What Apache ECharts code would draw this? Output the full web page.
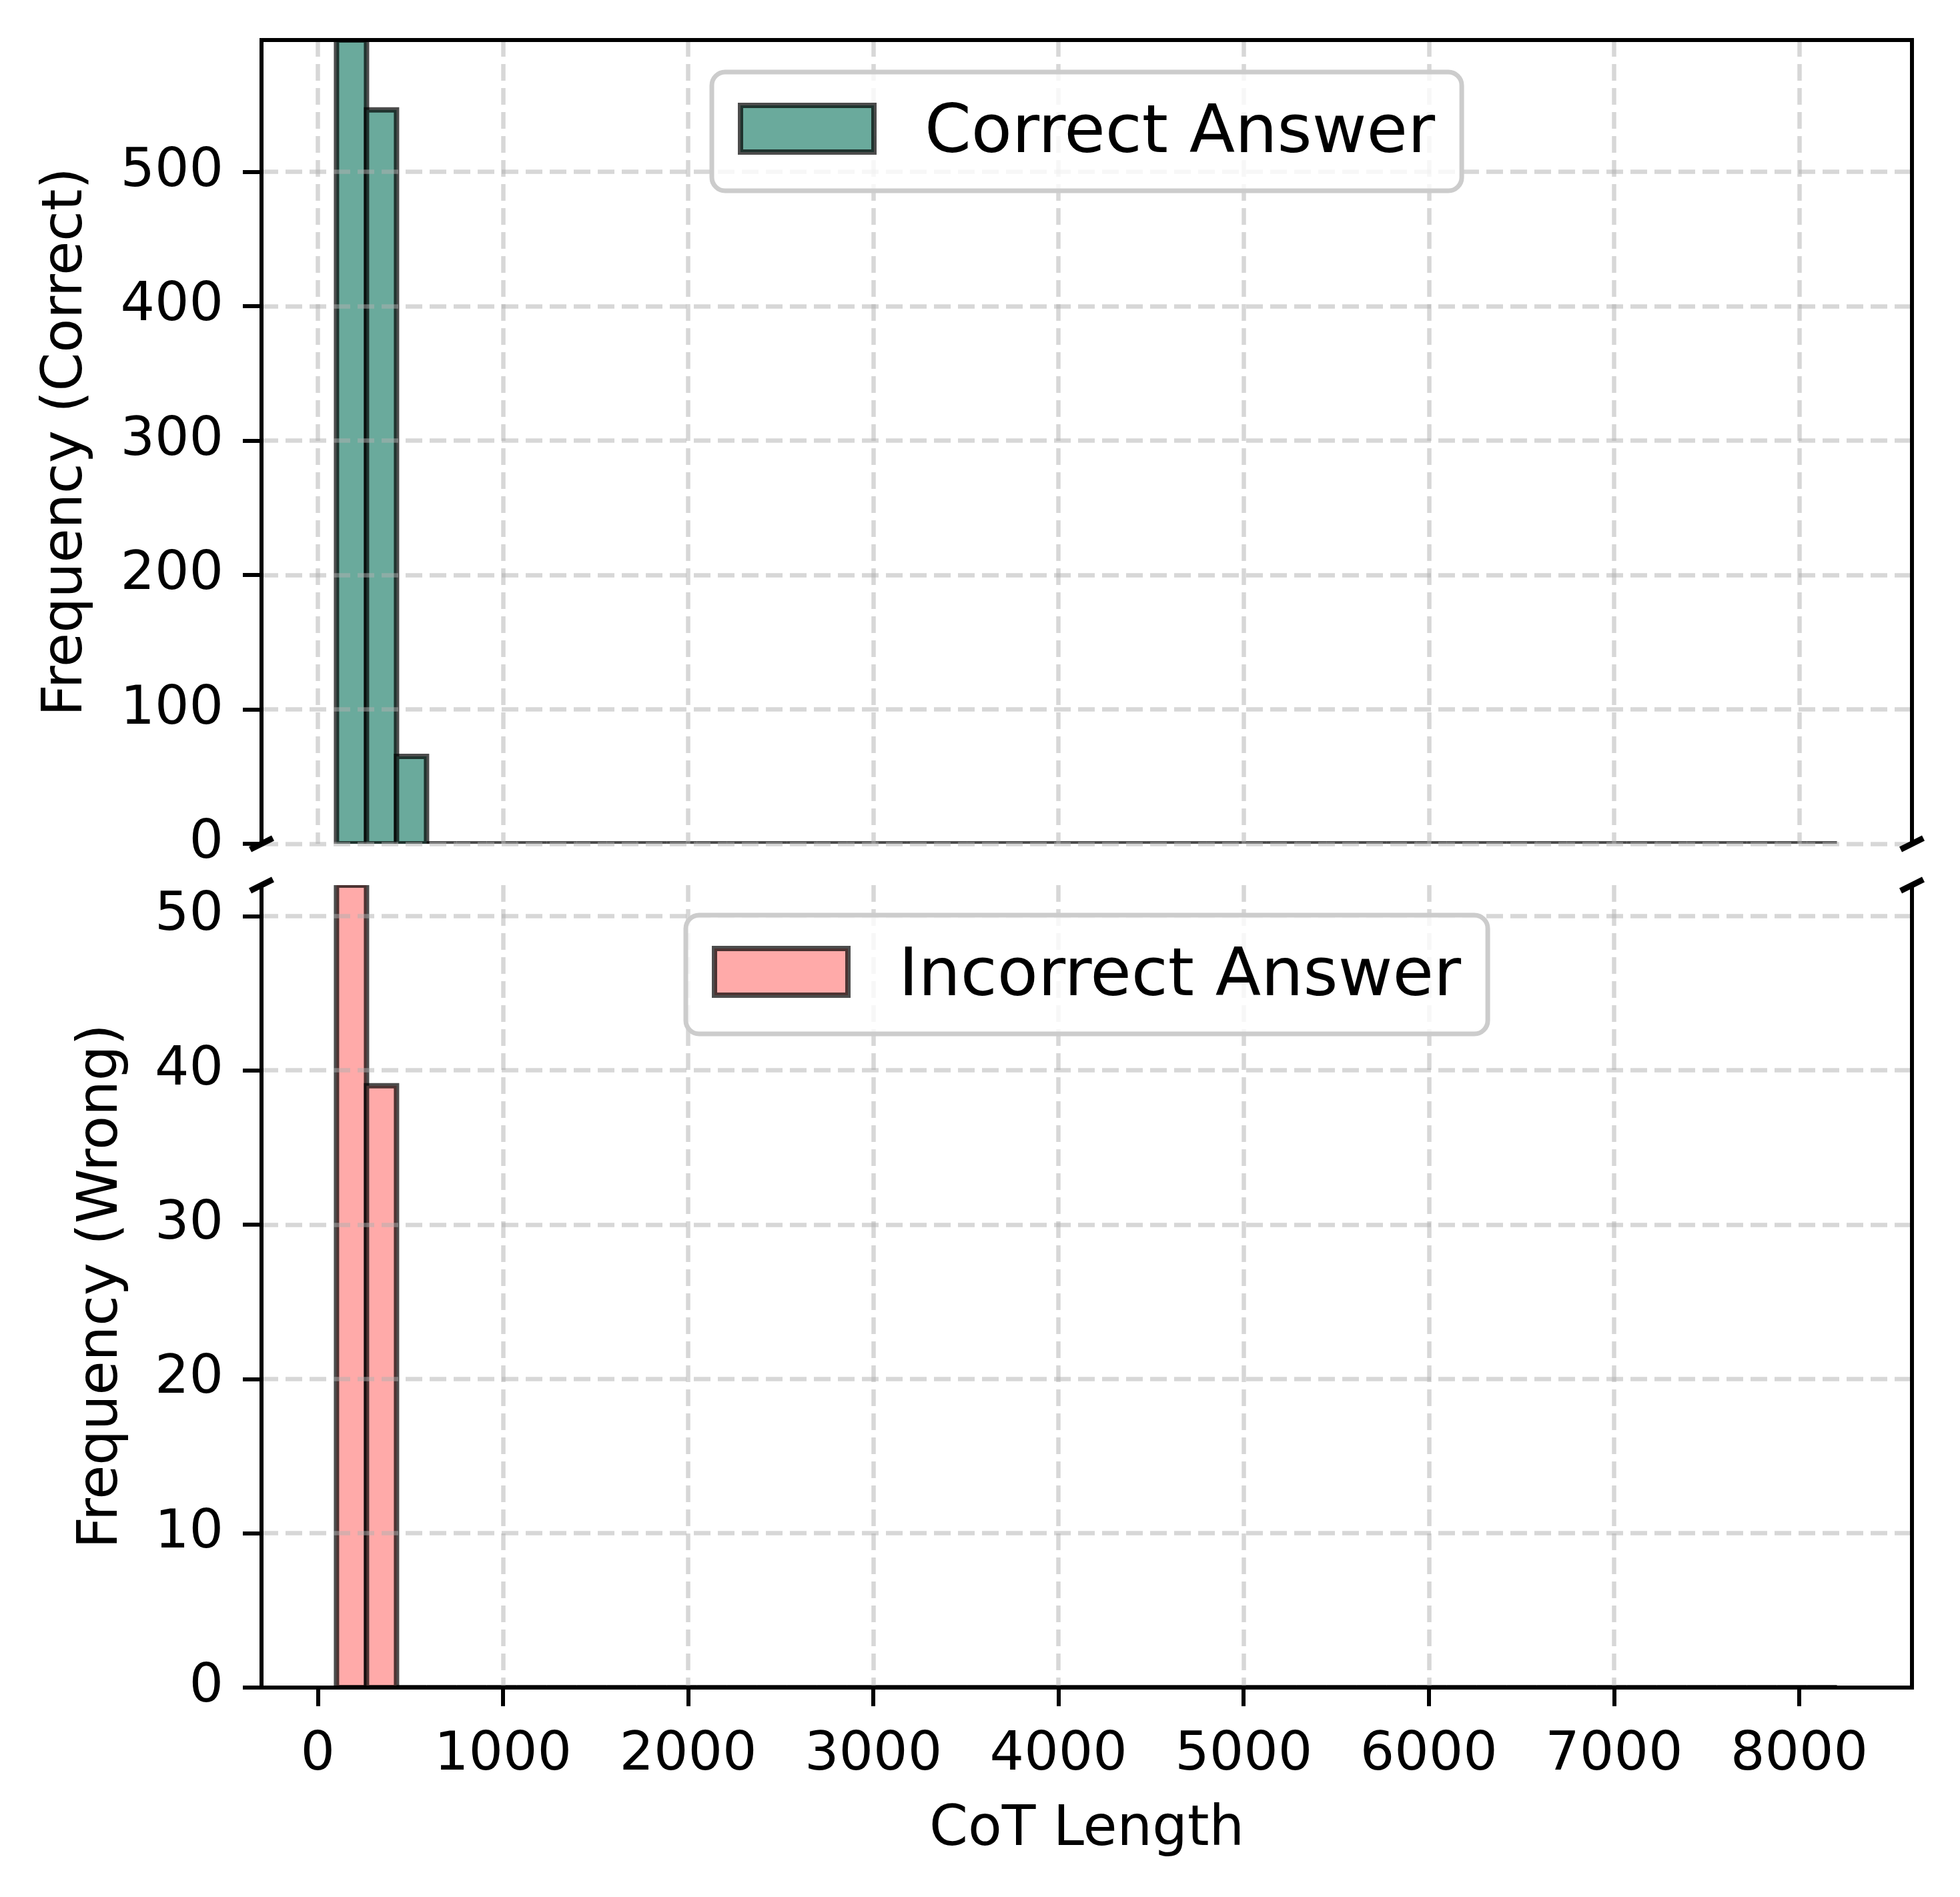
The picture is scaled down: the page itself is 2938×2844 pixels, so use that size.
<!DOCTYPE html>
<html>
<head>
<meta charset="utf-8">
<script src="https://cdn.jsdelivr.net/npm/echarts@6/dist/echarts.min.js"></script>
<style>
html,body{margin:0;padding:0;background:#fff;}
#chart{width:2938px;height:2844px;}
</style>
</head>
<body>
<div id="chart"></div>
<script>
// ---- data ----
const binLow = 101;          // first bin edge (CoT length)
const binHigh = 8204;        // last bin edge
const binCount = 50;
const correctCounts = [598, 546, 65, 0, 0, 0, 0, 0, 0, 0,
                       0, 0, 0, 0, 0, 0, 0, 0, 0, 0,
                       0, 0, 0, 0, 0, 0, 0, 0, 0, 0,
                       0, 0, 0, 0, 0, 0, 0, 0, 0, 0,
                       0, 0, 0, 0, 0, 0, 0, 0, 0, 0];
const wrongCounts = [52, 39, 0, 0, 0, 0, 0, 0, 0, 0,
                     0, 0, 0, 0, 0, 0, 0, 0, 0, 0,
                     0, 0, 0, 0, 0, 0, 0, 0, 0, 0,
                     0, 0, 0, 0, 0, 0, 0, 0, 0, 0,
                     0, 0, 0, 0, 0, 0, 0, 0, 0, 0];
const xTicks = [0, 1000, 2000, 3000, 4000, 5000, 6000, 7000, 8000];
const yTicksCorrect = [0, 100, 200, 300, 400, 500];
const yTicksWrong = [0, 10, 20, 30, 40, 50];
const seriesNames = ['Correct Answer', 'Incorrect Answer'];
const axisNames = {x: 'CoT Length', yTop: 'Frequency (Correct)', yBottom: 'Frequency (Wrong)'};

// ---- styling ----
const FONT = 'DejaVu Sans';
const COLOR_CORRECT = '#6aaa9c';
const COLOR_WRONG = '#ffaaa9';
const EDGE = 'rgba(0,0,0,0.7)';
const EDGE_W = 8;
const SPINE_W = 6;
const GRID_LINE = {color: 'rgba(176,176,176,0.5)', width: 6.5, type: [25, 11]};
const X_MIN = -304, X_MAX = 8609;

const binW = (binHigh - binLow) / binCount;
function toBins(counts) {
  return counts.map((c, i) => [binLow + i * binW, binLow + (i + 1) * binW, c]);
}

function renderBar(color) {
  return function (params, api) {
    const x0 = api.value(0), x1 = api.value(1), v = api.value(2);
    const p0 = api.coord([x0, 0]);
    const p1 = api.coord([x1, v]);
    return {
      type: 'rect',
      shape: {x: p0[0], y: p1[1], width: p1[0] - p0[0], height: p0[1] - p1[1]},
      style: {fill: color, stroke: EDGE, lineWidth: EDGE_W}
    };
  };
}

const spine = {show: true, onZero: false, lineStyle: {color: '#000', width: SPINE_W, cap: 'square'}};
const noShow = {show: false};
const noLine = {show: false, onZero: false};

const chart = echarts.init(document.getElementById('chart'), null, {renderer: 'canvas'});

const L = 392, R = 72;
const legendCommon = {
  z: 20, selectedMode: false,
  itemWidth: 200, itemHeight: 70,
  padding: [26, 40, 34, 39],
  backgroundColor: 'rgba(255,255,255,0.8)', borderColor: '#cccccc', borderWidth: 7, borderRadius: 20,
  formatter: '{t|{name}}',
  textStyle: {
    fontFamily: FONT, fontSize: 100, lineHeight: 100, color: '#000',
    rich: {t: {fontFamily: FONT, fontSize: 100, lineHeight: 100, color: '#000', padding: [18, 0, 0, 71]}}
  }
};
const option = {
  backgroundColor: '#fff',
  animation: false,
  grid: [
    {left: L, right: R, top: 60, height: 1205},
    {left: L, right: R, top: 1327, height: 1203}
  ],
  xAxis: [
    { // top grid: vertical grid lines only
      type: 'value', gridIndex: 0, min: X_MIN, max: X_MAX, splitNumber: 9, z: 10,
      axisLine: noLine, axisTick: noShow, axisLabel: noShow,
      splitLine: {show: true, showMinLine: false, showMaxLine: false, lineStyle: GRID_LINE}
    },
    { // top spine of top grid
      type: 'value', gridIndex: 0, position: 'top', min: X_MIN, max: X_MAX, splitNumber: 9, z: 11,
      axisLine: spine, axisTick: noShow, axisLabel: noShow, splitLine: noShow
    },
    { // bottom grid x axis
      type: 'value', gridIndex: 1, min: X_MIN, max: X_MAX, splitNumber: 9, z: 11,
      axisLine: spine,
      axisTick: {show: true, length: 28, inside: false, customValues: xTicks, lineStyle: {color: '#000', width: SPINE_W}},
      axisLabel: {show: true, customValues: xTicks, margin: 61, fontFamily: FONT, fontSize: 81, color: '#000',
                  formatter: v => String(v)},
      splitLine: {show: true, showMinLine: false, showMaxLine: false, lineStyle: GRID_LINE},
      name: axisNames.x, nameLocation: 'middle', nameGap: 173,
      nameTextStyle: {fontFamily: FONT, fontSize: 83, color: '#000'}
    }
  ],
  yAxis: [
    {
      type: 'value', gridIndex: 0, min: 0, max: 598, interval: 100, z: 11,
      axisLine: spine,
      axisTick: {show: true, length: 28, inside: false, customValues: yTicksCorrect, lineStyle: {color: '#000', width: SPINE_W}},
      axisLabel: {show: true, customValues: yTicksCorrect, margin: 57, fontFamily: FONT, fontSize: 81, color: '#000'},
      splitLine: {show: true, showMinLine: true, showMaxLine: true, lineStyle: GRID_LINE},
      name: axisNames.yTop, nameLocation: 'middle', nameRotate: 90, nameGap: 250,
      nameTextStyle: {fontFamily: FONT, fontSize: 83, color: '#000'}
    },
    {
      type: 'value', gridIndex: 0, position: 'right', min: 0, max: 598, interval: 100, z: 11,
      axisLine: spine, axisTick: noShow, axisLabel: noShow, splitLine: noShow
    },
    {
      type: 'value', gridIndex: 1, min: 0, max: 52, interval: 10, z: 11,
      axisLine: spine,
      axisTick: {show: true, length: 28, inside: false, customValues: yTicksWrong, lineStyle: {color: '#000', width: SPINE_W}},
      axisLabel: {show: true, customValues: yTicksWrong, margin: 57, fontFamily: FONT, fontSize: 81, color: '#000'},
      splitLine: {show: true, showMinLine: false, showMaxLine: true, lineStyle: GRID_LINE},
      name: axisNames.yBottom, nameLocation: 'middle', nameRotate: 90, nameGap: 197,
      nameTextStyle: {fontFamily: FONT, fontSize: 83, color: '#000'}
    },
    {
      type: 'value', gridIndex: 1, position: 'right', min: 0, max: 52, interval: 10, z: 11,
      axisLine: spine, axisTick: noShow, axisLabel: noShow, splitLine: noShow
    }
  ],
  legend: [
    Object.assign({
      data: [{name: seriesNames[0], icon: 'rect',
              itemStyle: {color: COLOR_CORRECT, borderColor: EDGE, borderWidth: EDGE_W}}],
      left: 1067, top: 108
    }, legendCommon),
    Object.assign({
      data: [{name: seriesNames[1], icon: 'rect',
              itemStyle: {color: COLOR_WRONG, borderColor: EDGE, borderWidth: EDGE_W}}],
      left: 1028, top: 1372
    }, legendCommon)
  ],
  series: [
    {
      name: seriesNames[0], type: 'custom', coordinateSystem: 'cartesian2d',
      xAxisIndex: 0, yAxisIndex: 0, clip: true, z: 2,
      itemStyle: {color: COLOR_CORRECT},
      encode: {x: [0, 1], y: 2},
      renderItem: renderBar(COLOR_CORRECT),
      data: toBins(correctCounts)
    },
    {
      name: seriesNames[1], type: 'custom', coordinateSystem: 'cartesian2d',
      xAxisIndex: 2, yAxisIndex: 2, clip: true, z: 2,
      itemStyle: {color: COLOR_WRONG},
      encode: {x: [0, 1], y: 2},
      renderItem: renderBar(COLOR_WRONG),
      data: toBins(wrongCounts)
    }
  ]
};
chart.setOption(option);

// axis-break marks, placed at the grid corners where the two panels meet
function breakMarks() {
  const rects = [chart.getModel().getComponent('grid', 0).coordinateSystem.getRect(),
                 chart.getModel().getComponent('grid', 1).coordinateSystem.getRect()];
  const pts = [
    [rects[0].x, rects[0].y + rects[0].height],
    [rects[0].x + rects[0].width, rects[0].y + rects[0].height],
    [rects[1].x, rects[1].y],
    [rects[1].x + rects[1].width, rects[1].y]
  ];
  return pts.map(p => ({
    type: 'line', z: 30,
    shape: {x1: p[0] - 17, y1: p[1] + 8.5, x2: p[0] + 17, y2: p[1] - 8.5},
    style: {stroke: '#000', lineWidth: 9}
  }));
}
chart.setOption({graphic: breakMarks()});
</script>
</body>
</html>
